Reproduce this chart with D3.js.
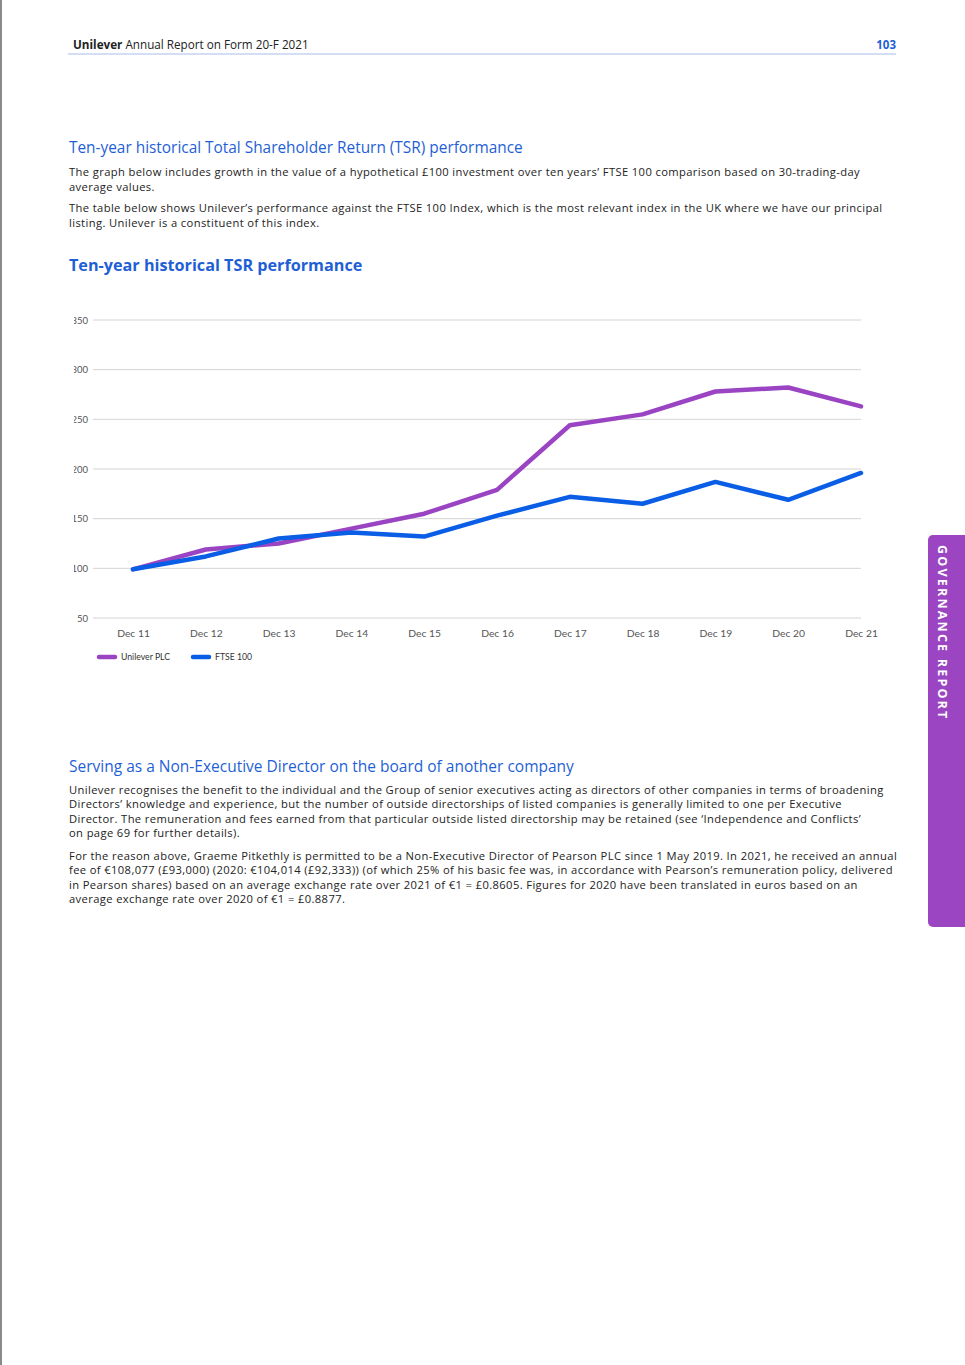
<html>
  <head>
    <style>
      body { margin: 0; background: #fff; }
      svg { display: block; font-family: "Open Sans", Lato, sans-serif; }
    </style>
  </head>
  <body>
    <script src="https://d3js.org/d3.v7.min.js"></script>
    <div id="main"></div>
    <script>
      // chart data
      const years = ["Dec 11", "Dec 12", "Dec 13", "Dec 14", "Dec 15", "Dec 16", "Dec 17", "Dec 18", "Dec 19", "Dec 20", "Dec 21"];
      const unilever = [99, 119, 125, 140, 155, 179, 244, 255, 278, 282, 263];
      const ftse = [99, 112, 130, 136, 132, 153, 172, 165, 187, 169, 196];
      const yTicks = [50, 100, 150, 200, 250, 300, 350];
      const seriesNames = ["Unilever PLC", "FTSE 100"];

      const purple = "#9a44c3";
      const blue = "#0a5ee6";
      const headBlue = "#1f5fd6";
      const textCol = "#222";

      const svg = d3.select("#main").append("svg")
        .attr("width", 965).attr("height", 1365);

      // left page edge
      svg.append("rect").attr("x", 0).attr("y", 0).attr("width", 2).attr("height", 1365).attr("fill", "#8a8a8a");

      // page header
      const hdr = svg.append("text").attr("x", 73).attr("y", 49).attr("font-size", 11.7).attr("fill", textCol);
      hdr.append("tspan").attr("font-weight", "bold").text("Unilever");
      hdr.append("tspan").text(" Annual Report on Form 20-F 2021");
      svg.append("text").attr("x", 896).attr("y", 49).attr("text-anchor", "end")
        .attr("font-size", 11.5).attr("font-weight", "bold").attr("fill", headBlue).text("103");
      svg.append("line").attr("x1", 68).attr("x2", 896).attr("y1", 54).attr("y2", 54)
        .attr("stroke", "#a9bde8").attr("stroke-width", 1);

      // side tab
      svg.append("rect").attr("x", 928).attr("y", 535).attr("width", 50).attr("height", 392)
        .attr("rx", 5).attr("fill", "#9b45c2");
      svg.append("text").attr("transform", "translate(941,545) rotate(90)")
        .attr("font-size", 12.5).attr("font-weight", "bold").attr("letter-spacing", 2.2)
        .attr("fill", "#fff").attr("dominant-baseline", "middle")
        .text("GOVERNANCE REPORT");

      function para(lines, x, y0, lh) {
        lines.forEach((t, i) => {
          svg.append("text").attr("x", x).attr("y", y0 + i * lh)
            .attr("font-size", 11.2).attr("letter-spacing", 0.38).attr("fill", textCol).text(t);
        });
      }

      svg.append("text").attr("x", 69).attr("y", 153).attr("font-size", 15.4)
        .attr("fill", headBlue).text("Ten-year historical Total Shareholder Return (TSR) performance");
      para(["The graph below includes growth in the value of a hypothetical £100 investment over ten years’ FTSE 100 comparison based on 30-trading-day",
            "average values."], 69, 176, 14.5);
      para(["The table below shows Unilever’s performance against the FTSE 100 Index, which is the most relevant index in the UK where we have our principal",
            "listing. Unilever is a constituent of this index."], 69, 212, 14.5);

      svg.append("text").attr("x", 69).attr("y", 271).attr("font-size", 16.2).attr("font-weight", "bold")
        .attr("fill", headBlue).text("Ten-year historical TSR performance");

      // chart
      const x = d3.scalePoint().domain(years).range([133, 861]);
      const y = d3.scaleLinear().domain([50, 350]).range([618, 320]);

      svg.append("clipPath").attr("id", "lblclip")
        .append("rect").attr("x", 74).attr("y", 0).attr("width", 900).attr("height", 1365);

      const yAxis = svg.append("g").attr("clip-path", "url(#lblclip)").append("g")
        .attr("transform", "translate(88,0)")
        .call(d3.axisLeft(y).tickValues(yTicks).tickSize(0).tickPadding(0));
      yAxis.select(".domain").remove();
      yAxis.selectAll("text").attr("font-size", 9.5).attr("fill", "#555").attr("font-family", "Lato, sans-serif");

      svg.append("g").selectAll("line").data(yTicks).join("line")
        .attr("x1", 93).attr("x2", 861)
        .attr("y1", d => y(d)).attr("y2", d => y(d))
        .attr("stroke", "#d4d4d4").attr("stroke-width", 1);

      const xAxis = svg.append("g").attr("transform", "translate(0,630)")
        .call(d3.axisBottom(x).tickSize(0).tickPadding(0));
      xAxis.select(".domain").remove();
      xAxis.selectAll("text").attr("font-size", 10.3).attr("fill", "#555").attr("font-family", "Lato, sans-serif");

      const line = d3.line().x((d, i) => x(years[i])).y(d => y(d));
      [[unilever, purple], [ftse, blue]].forEach(([vals, col]) => {
        svg.append("path").datum(vals).attr("d", line)
          .attr("fill", "none").attr("stroke", col).attr("stroke-width", 4.5)
          .attr("stroke-linejoin", "round").attr("stroke-linecap", "round");
      });

      // legend
      const legX = [97, 191];
      seriesNames.forEach((n, i) => {
        svg.append("line").attr("x1", legX[i] + 2).attr("x2", legX[i] + 18).attr("y1", 657).attr("y2", 657)
          .attr("stroke", i ? blue : purple).attr("stroke-width", 4.5).attr("stroke-linecap", "round");
        svg.append("text").attr("x", legX[i] + 24).attr("y", 660).attr("font-size", 8.7)
          .attr("fill", "#333").attr("font-family", "Lato, sans-serif").text(n);
      });

      // second section
      svg.append("text").attr("x", 69).attr("y", 772).attr("font-size", 15.5)
        .attr("fill", headBlue).text("Serving as a Non-Executive Director on the board of another company");
      para(["Unilever recognises the benefit to the individual and the Group of senior executives acting as directors of other companies in terms of broadening",
            "Directors’ knowledge and experience, but the number of outside directorships of listed companies is generally limited to one per Executive",
            "Director. The remuneration and fees earned from that particular outside listed directorship may be retained (see ‘Independence and Conflicts’",
            "on page 69 for further details)."], 69, 794, 14.3);
      para(["For the reason above, Graeme Pitkethly is permitted to be a Non-Executive Director of Pearson PLC since 1 May 2019. In 2021, he received an annual",
            "fee of €108,077 (£93,000) (2020: €104,014 (£92,333)) (of which 25% of his basic fee was, in accordance with Pearson’s remuneration policy, delivered",
            "in Pearson shares) based on an average exchange rate over 2021 of €1 = £0.8605. Figures for 2020 have been translated in euros based on an",
            "average exchange rate over 2020 of €1 = £0.8877."], 69, 860, 14.3);
    </script>
  </body>
</html>
